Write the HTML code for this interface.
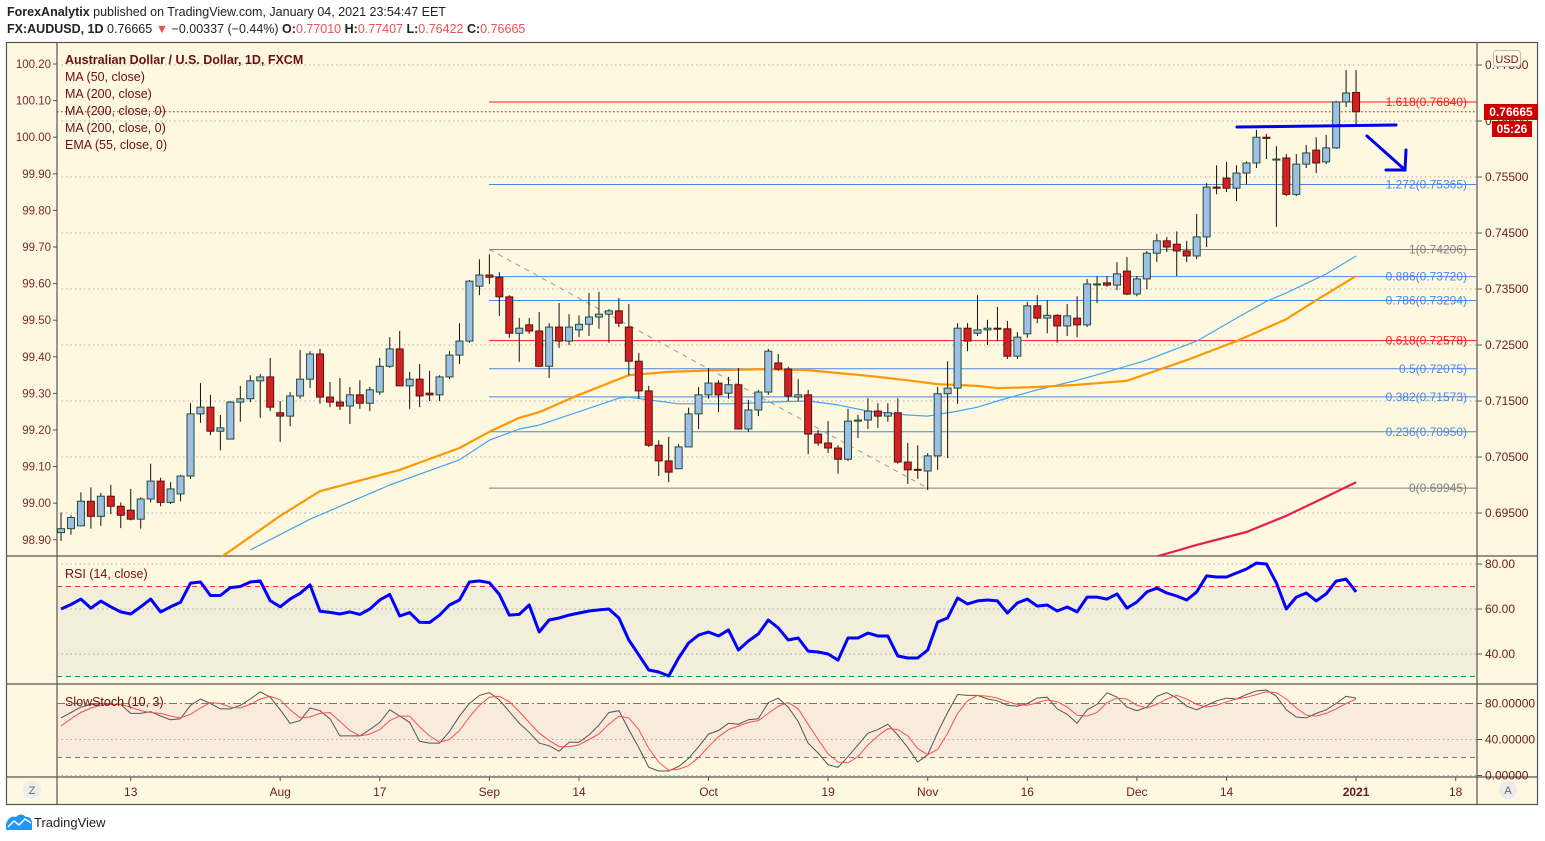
<!DOCTYPE html>
<html><head><meta charset="utf-8">
<style>
html,body{margin:0;padding:0;background:#fff;width:1545px;height:841px;overflow:hidden;font-family:"Liberation Sans",sans-serif;}
#hdr1{position:absolute;left:7px;top:5px;font-size:12.5px;color:#222;}
#hdr2{position:absolute;left:7px;top:22px;font-size:12.5px;color:#222;}
.r{color:#f05050}
svg{position:absolute;left:0;top:0}
</style></head><body>
<div id="hdr1"><b>ForexAnalytix</b> published on TradingView.com, January 04, 2021 23:54:47 EET</div>
<div id="hdr2"><b>FX:AUDUSD, 1D</b> 0.76665 <span class="r">▼</span> −0.00337 (−0.44%) <b>O:</b><span class="r">0.77010</span> <b>H:</b><span class="r">0.77407</span> <b>L:</b><span class="r">0.76422</span> <b>C:</b><span class="r">0.76665</span></div>
<svg id="chart" width="1545" height="841" xmlns="http://www.w3.org/2000/svg" font-family="Liberation Sans, sans-serif"></svg>
<script>
const opens=[.6915,.6922,.6927,.6971,.6944,.6980,.6962,.6955,.6939,.6975,.7007,.6969,.6984,.7016,.7127,.7139,.7096,.7082,.7148,.7154,.7186,.7193,.7129,.7123,.7159,.7189,.7234,.7157,.7148,.7141,.7161,.7146,.7166,.7212,.7243,.7177,.7189,.7164,.7161,.7193,.7232,.7257,.7355,.7375,.7371,.7336,.7271,.7286,.7275,.7212,.7282,.7257,.7277,.7287,.7300,.7305,.7311,.7282,.7221,.7168,.7071,.7043,.7029,.7068,.7127,.7161,.7182,.7164,.7179,.7100,.7134,.7166,.7218,.7207,.7157,.7161,.7091,.7075,.7066,.7046,.7114,.7116,.7132,.7123,.7129,.7041,.7028,.7025,.7052,.7163,.7173,.7280,.7271,.7277,.7280,.7279,.7230,.7270,.7320,.7298,.7303,.7284,.7298,.7286,.7358,.7361,.7357,.7382,.7341,.7368,.7414,.7436,.7430,.7418,.7409,.7443,.7532,.7548,.7530,.7557,.7575,.7621,.7581,.7584,.7519,.7573,.7598,.7577,.7602,.7684,.7701];
const highs=[.6951,.6946,.6987,.6996,.6986,.7000,.6969,.6993,.6978,.7038,.7013,.7005,.7018,.7146,.7182,.7161,.7125,.7150,.7177,.7196,.7198,.7227,.7150,.7166,.7241,.7239,.7243,.7184,.7191,.7175,.7187,.7175,.7227,.7264,.7275,.7202,.7216,.7204,.7196,.7239,.7289,.7366,.7403,.7412,.7380,.7339,.7298,.7298,.7309,.7289,.7325,.7305,.7303,.7343,.7345,.7314,.7334,.7323,.7236,.7177,.7080,.7086,.7073,.7138,.7175,.7209,.7187,.7193,.7209,.7152,.7170,.7243,.7234,.7211,.7189,.7170,.7098,.7114,.7071,.7136,.7125,.7155,.7146,.7146,.7155,.7075,.7071,.7057,.7175,.7221,.7289,.7289,.7339,.7295,.7318,.7293,.7273,.7327,.7339,.7330,.7305,.7323,.7337,.7368,.7373,.7373,.7398,.7407,.7373,.7418,.7448,.7443,.7453,.7436,.7484,.7539,.7571,.7577,.7571,.7578,.7634,.7627,.7605,.7591,.7591,.7607,.7621,.7625,.7686,.7741,.7741];
const lows=[.6900,.6911,.6927,.6922,.6927,.6948,.6923,.6937,.6922,.6969,.6962,.6966,.6971,.7011,.7111,.7089,.7062,.7082,.7113,.7148,.7120,.7132,.7077,.7105,.7154,.7173,.7145,.7139,.7134,.7109,.7136,.7132,.7161,.7209,.7177,.7136,.7139,.7150,.7150,.7189,.7216,.7254,.7339,.7359,.7302,.7263,.7220,.7270,.7211,.7191,.7245,.7250,.7264,.7266,.7279,.7254,.7282,.7196,.7154,.7068,.7016,.7005,.7029,.7068,.7100,.7154,.7130,.7154,.7100,.7095,.7123,.7161,.7204,.7150,.7150,.7055,.7070,.7057,.7020,.7043,.7084,.7100,.7102,.7113,.7038,.7002,.7011,.6991,.7027,.7048,.7145,.7239,.7266,.7250,.7257,.7225,.7225,.7263,.7289,.7271,.7254,.7266,.7264,.7282,.7325,.7354,.7348,.7339,.7337,.7350,.7398,.7416,.7373,.7398,.7403,.7425,.7519,.7523,.7507,.7537,.7566,.7582,.7461,.7516,.7516,.7566,.7557,.7573,.7600,.7675,.7642];
const closes=[.6922,.6942,.6971,.6944,.6980,.6962,.6946,.6939,.6975,.7007,.6969,.6993,.7016,.7127,.7139,.7096,.7102,.7148,.7154,.7186,.7193,.7139,.7123,.7159,.7189,.7234,.7157,.7148,.7141,.7161,.7146,.7170,.7212,.7243,.7177,.7189,.7159,.7161,.7193,.7232,.7257,.7364,.7375,.7371,.7336,.7271,.7280,.7275,.7212,.7282,.7257,.7282,.7287,.7300,.7305,.7311,.7289,.7221,.7168,.7071,.7043,.7023,.7068,.7127,.7161,.7182,.7161,.7179,.7100,.7134,.7166,.7239,.7207,.7159,.7161,.7091,.7075,.7066,.7046,.7114,.7116,.7132,.7123,.7129,.7041,.7027,.7027,.7052,.7163,.7173,.7280,.7257,.7277,.7280,.7279,.7230,.7264,.7320,.7298,.7303,.7284,.7302,.7286,.7359,.7359,.7357,.7377,.7341,.7368,.7414,.7436,.7425,.7418,.7409,.7443,.7532,.7530,.7530,.7557,.7575,.7621,.7619,.7582,.7519,.7573,.7593,.7575,.7602,.7684,.7700,.76665];
const ma50Idx=[19,25,33,40,43,46,48,56,57,59,62,68,71,75,78,81,85,87,90,92,94,98,102,105,109,114,118,121,123,127,130];
const ma50Val=[.6884,.6939,.7000,.7045,.7080,.7100,.7107,.7155,.7157,.7152,.7145,.7145,.7148,.7150,.7143,.7132,.7125,.7123,.7132,.7139,.7150,.7170,.7187,.7202,.7223,.7257,.7298,.7328,.7343,.7377,.7409];
const ema55Idx=[16,22,26,34,40,43,46,48,52,57,61,66,71,75,78,81,85,88,92,94,98,102,107,113,118,123,126,130];
const ema55Val=[.6870,.6945,.6989,.7027,.7066,.7095,.7120,.7130,.7161,.7196,.7202,.7205,.7207,.7205,.7200,.7195,.7187,.7180,.7177,.7173,.7175,.7179,.7186,.7223,.7257,.7296,.7330,.7373];
const ma200Idx=[108,114,119,123,127,130];
const ma200Val=[.6862,.6893,.6916,.6945,.6979,.7005];
const rsiVals=[60,62,64.4,60.4,63.5,61,58.7,57.8,61,64.4,58.7,61,63,71.5,72,66,66,69.5,70,72,72.5,63.7,61,64.4,67,70.7,59,58.5,57.8,58.7,57.6,60,64,66.5,56.9,58.4,54.1,54,57.3,61.8,64,72,72.5,71.7,66.5,57.3,57.6,61.8,49.8,55.1,56,57.3,58.2,59.1,59.6,60,56,46.2,39.6,32.9,32,30.2,38.2,44.9,48.4,49.8,48,50.7,41.8,45.8,48.9,55.1,51.6,46.2,47.1,41.3,40.9,40,37.3,47.1,47.1,49.3,48,48,39.1,38.2,38.2,41.8,54.2,56,64.9,62.2,63.6,64,63.6,58.2,62.7,64.4,61.3,61.8,59.1,60.9,58.7,65.3,65.3,64.4,66.7,60.4,63.1,67.6,69.3,67.1,65.8,64,67.6,74.7,74.2,74.2,76,77.8,80.4,80,71.6,60,65.3,67.1,63.6,66.7,72.4,73.3,67.6];
const stochK=[64,70,76,79,80,79,79,69,69,71,66,62,63,78,85,80,74,74,78,85,93,87,73,58,61,75,72,63,44,44,44,51,59,73,66,59,38,36,36,49,66,80,89,92,84,71,58,48,36,33,27,37,37,45,56,70,72,51,31,9,5,5,10,19,32,46,50,58,57,62,63,81,86,76,60,36,25,12,9,21,34,47,51,57,45,31,15,23,48,70,90,89,89,85,83,78,77,80,86,87,74,68,58,73,79,92,87,76,72,76,88,92,86,77,73,78,83,86,85,90,94,95,88,73,65,64,69,73,80,88,86];
const stochD=[55,63,70,75,78,79,79,76,72,70,69,66,64,68,75,81,80,76,75,79,85,88,84,73,64,65,69,70,60,50,44,46,51,61,66,66,54,44,37,40,50,65,78,87,88,82,71,59,47,39,32,32,34,40,46,57,66,64,51,30,15,6,7,11,20,32,43,51,55,59,61,69,77,81,74,57,40,24,15,14,21,34,44,52,51,44,30,23,29,47,69,83,89,88,86,82,79,78,81,84,82,76,67,66,70,81,86,85,78,75,79,85,89,85,79,76,78,82,85,87,90,93,92,85,75,67,66,69,74,80,85];
const fibRatios=["1.618","1.272","1","0.886","0.786","0.618","0.5","0.382","0.236","0"];
const fibPrices=[0.76840,0.75365,0.74206,0.73720,0.73294,0.72578,0.72075,0.71573,0.70950,0.69945];
const fibColors=["#ff1a1a","#4a86e8","#808080","#4a86e8","#4a86e8","#ff1a1a","#4a86e8","#4a86e8","#4a86e8","#808080"];
const priceTicks=[0.775,0.765,0.755,0.745,0.735,0.725,0.715,0.705,0.695];
const leftTicks=["100.20","100.10","100.00","99.90","99.80","99.70","99.60","99.50","99.40","99.30","99.20","99.10","99.00","98.90"];
const rsiTicks=[80,60,40];
const stochTicks=[80,40,0];
const dateLabels=["13","Aug","17","Sep","14","Oct","19","Nov","16","Dec","14","2021","18"];
const dateIdx=[7,22,32,43,52,65,77,87,97,108,117,130,140];

const NS="http://www.w3.org/2000/svg";
const svg=document.getElementById('chart');
const PL=57,PR=1477,MT=42,MB=556,RB=684,SB=777,AB=804;
function xOf(i){return 61+i*9.962;}
function yP(p){return 177+(0.755-p)*5600;}
function yR(v){return 564+(80-v)*2.25;}
function yS(v){return 775.5-v*0.9;}
function el(tag,attrs,parent){const e=document.createElementNS(NS,tag);for(const k in attrs)e.setAttribute(k,attrs[k]);(parent||svg).appendChild(e);return e;}
function txt(s,attrs,parent){const t=el('text',attrs,parent);t.textContent=s;return t;}

// frame background
let bg=el('rect',{x:6.5,y:MT+0.5,width:1531,height:AB-MT,fill:'#fef8e1',stroke:'#555','stroke-width':1.2});


// bands
let rb=el('rect',{x:PL,y:yR(70),width:PR-PL,height:yR(30)-yR(70),fill:'#f3eed9'});


let sb=el('rect',{x:PL,y:yS(80),width:PR-PL,height:yS(20)-yS(80),fill:'#f8ebdb'});


// separators
[[PL,MT,PL,AB],[PR,MT,PR,AB],[6,MB,1538,MB],[6,RB,1538,RB],[6,SB,1538,SB]].forEach(l=>{
  const ln=el('line',{x1:l[0],y1:l[1],x2:l[2],y2:l[3],stroke:'#555','stroke-width':1.2});
  
  
});
// price grid and right axis
const gridG=el('g',{});


priceTicks.forEach(p=>{
  const y=yP(p);
  el('line',{x1:PL,y1:y,x2:PR,y2:y,stroke:'#aaa','stroke-dasharray':'1.5,3','stroke-width':1},gridG);
  el('line',{x1:PR,y1:y,x2:PR+5,y2:y,stroke:'#555'},gridG);
  const t=txt(p.toFixed(5),{x:PR+8,y:y+4,'font-size':12,fill:'#6b1a1a'});
  
  
});
// left axis labels
leftTicks.forEach((s,k)=>{
  const y=64+k*36.6;
  el('line',{x1:PL-4,y1:y,x2:PL,y2:y,stroke:'#555'});
  const t=txt(s,{x:PL-6,y:y+4,'font-size':11.5,fill:'#7b2a2a','text-anchor':'end'});
  
  
});
// clip for main pane
const defs=el('defs',{});
const cp=el('clipPath',{id:'mainclip'},defs);
el('rect',{x:PL,y:MT,width:PR-PL,height:MB-MT},cp);
const mainG=el('g',{'clip-path':'url(#mainclip)'});


// fib lines
fibPrices.forEach((p,k)=>{
  const y=yP(p);
  const ln=el('line',{x1:489,y1:y,x2:PR,y2:y,stroke:fibColors[k],'stroke-width':1},mainG);
  
  
  const t=txt(fibRatios[k]+'('+p.toFixed(5)+')',{x:1467,y:y+4,'font-size':12,fill:fibColors[k],'text-anchor':'end'},mainG);
  
  
});
const diag=el('line',{x1:xOf(43),y1:yP(fibPrices[2]),x2:xOf(87),y2:yP(fibPrices[9]),stroke:'#999','stroke-dasharray':'5,5','stroke-width':1},mainG);


// current price dotted
const cpl=el('line',{x1:PL,y1:yP(closes[closes.length-1]),x2:PR,y2:yP(closes[closes.length-1]),stroke:'#e00','stroke-dasharray':'1.5,2.5'},mainG);


// moving averages
function poly(idx,vals,color,w,name){
  const pts=idx.map((i,k)=>xOf(i).toFixed(1)+','+yP(vals[k]).toFixed(1)).join(' ');
  const pl=el('polyline',{points:pts,fill:'none',stroke:color,'stroke-width':w,'stroke-linejoin':'round'},mainG);
  
  
}
poly(ma50Idx,ma50Val,'#42a5f5',1.2,'ma50-line');
poly(ema55Idx,ema55Val,'#ff9800',2.2,'ema55-line');
poly(ma200Idx,ma200Val,'#e91e4c',2.2,'ma200-line');
// candles
for(let i=0;i<opens.length;i++){
  const x=xOf(i),o=opens[i],c=closes[i],bull=c>=o;
  const g=el('g',{},mainG);
  
  
  el('line',{x1:x,y1:yP(highs[i]),x2:x,y2:yP(lows[i]),stroke:'#111','stroke-width':1},g);
  const top=yP(Math.max(o,c)),bot=yP(Math.min(o,c));
  el('rect',{x:x-3.5,y:top,width:7,height:Math.max(1,bot-top),fill:bull?'#9fbfe6':'#d32222',stroke:bull?'#1f4d38':'#5a1010','stroke-width':1},g);
}
// annotations
const ann=el('g',{stroke:'#0000ee','stroke-width':3,fill:'none','stroke-linecap':'round'},mainG);


el('line',{x1:1237,y1:127,x2:1396,y2:125},ann);
el('polyline',{points:'1367,136 1404,169'},ann);
el('polyline',{points:'1386,170 1405,170 1406,150'},ann);
// legend
const leg=["MA (50, close)","MA (200, close)","MA (200, close, 0)","MA (200, close, 0)","EMA (55, close, 0)"];
let t0=txt("Australian Dollar / U.S. Dollar, 1D, FXCM",{x:65,y:64,'font-size':12.5,'font-weight':'bold',fill:'#6b0f0f'});


leg.forEach((s,k)=>{
  const t=txt(s,{x:65,y:81+k*17,'font-size':12.5,fill:'#6b0f0f'});
  
  
});
// price labels
const pb=el('rect',{x:1484,y:104,width:54,height:16,fill:'#cc0000'});


txt('0.76665',{x:1511,y:116,'font-size':12,'font-weight':'bold',fill:'#fff','text-anchor':'middle'});
const tb=el('rect',{x:1492,y:121,width:40,height:16,fill:'#cc0000'});


txt('05:26',{x:1512,y:133,'font-size':12,'font-weight':'bold',fill:'#fff','text-anchor':'middle'});
const ub=el('rect',{x:1493.5,y:50.5,width:27,height:16,rx:3,fill:'#fef8e1',stroke:'#bbb'});


txt('USD',{x:1507,y:63,'font-size':11,fill:'#6b1a1a','text-anchor':'middle'});
// RSI pane
[80,60,40].forEach(v=>el('line',{x1:PL,y1:yR(v),x2:PR,y2:yR(v),stroke:'#aaa','stroke-dasharray':'1.5,3'}));
el('line',{x1:PL,y1:yR(70),x2:PR,y2:yR(70),stroke:'#f03030','stroke-dasharray':'5,4'});
el('line',{x1:PL,y1:yR(30),x2:PR,y2:yR(30),stroke:'#009688','stroke-dasharray':'5,4'});
rsiTicks.forEach(v=>{
  el('line',{x1:PR,y1:yR(v),x2:PR+5,y2:yR(v),stroke:'#555'});
  const t=txt(v.toFixed(2),{x:PR+8,y:yR(v)+4,'font-size':12,fill:'#6b1a1a'});
  
  
});
const rsiLine=el('polyline',{points:rsiVals.map((v,i)=>xOf(i).toFixed(1)+','+yR(v).toFixed(1)).join(' '),fill:'none',stroke:'#0000ff','stroke-width':3,'stroke-linejoin':'round'});


const rt=txt('RSI (14, close)',{x:65,y:578,'font-size':12.5,fill:'#6b0f0f'});


// Stoch pane
el('line',{x1:PL,y1:yS(80),x2:PR,y2:yS(80),stroke:'#777','stroke-dasharray':'8,3,2,3'});
el('line',{x1:PL,y1:yS(40),x2:PR,y2:yS(40),stroke:'#aaa','stroke-dasharray':'1.5,3'});
el('line',{x1:PL,y1:yS(20),x2:PR,y2:yS(20),stroke:'#777','stroke-dasharray':'5,4'});
el('line',{x1:PL,y1:yS(0),x2:PR,y2:yS(0),stroke:'#aaa','stroke-dasharray':'1.5,3'});
stochTicks.forEach(v=>{
  el('line',{x1:PR,y1:yS(v),x2:PR+5,y2:yS(v),stroke:'#555'});
  const t=txt(v.toFixed(5),{x:PR+8,y:yS(v)+4,'font-size':12,fill:'#6b1a1a'});
  
  
});
const kl=el('polyline',{points:stochK.map((v,i)=>xOf(i).toFixed(1)+','+yS(v).toFixed(1)).join(' '),fill:'none',stroke:'#555','stroke-width':1});


const dl=el('polyline',{points:stochD.map((v,i)=>xOf(i).toFixed(1)+','+yS(v).toFixed(1)).join(' '),fill:'none',stroke:'#ff4d4d','stroke-width':1});


const st=txt('SlowStoch (10, 3)',{x:65,y:706,'font-size':12.5,fill:'#6b0f0f'});


// time axis
dateLabels.forEach((s,k)=>{
  const x=xOf(dateIdx[k]);
  el('line',{x1:x,y1:SB,x2:x,y2:SB+4,stroke:'#555'});
  const t=txt(s,{x:x,y:796,'font-size':12,fill:'#6b1a1a','text-anchor':'middle','font-weight':s==='2021'?'bold':'normal'});
  
  
});
const zc=el('circle',{cx:32,cy:790,r:9,fill:'#ececec'});


txt('Z',{x:32,y:794,'font-size':11,fill:'#666','text-anchor':'middle'});
const ac=el('circle',{cx:1508,cy:790,r:9,fill:'#ececec'});


txt('A',{x:1508,y:794,'font-size':11,fill:'#666','text-anchor':'middle'});
// logo
const lg=el('g',{});


el('path',{d:'M6,830 L6,824 Q9,815 16,817 Q21,812 26,817 Q31,816 32,822 L32,830 Z',fill:'#2196f3'},lg);
el('polyline',{points:'8,827 14,821 19,825 25,819 31,823',fill:'none',stroke:'#fff','stroke-width':1.5},lg);
txt('TradingView',{x:34,y:827,'font-size':13,fill:'#222'},lg);
</script>
</body></html>
